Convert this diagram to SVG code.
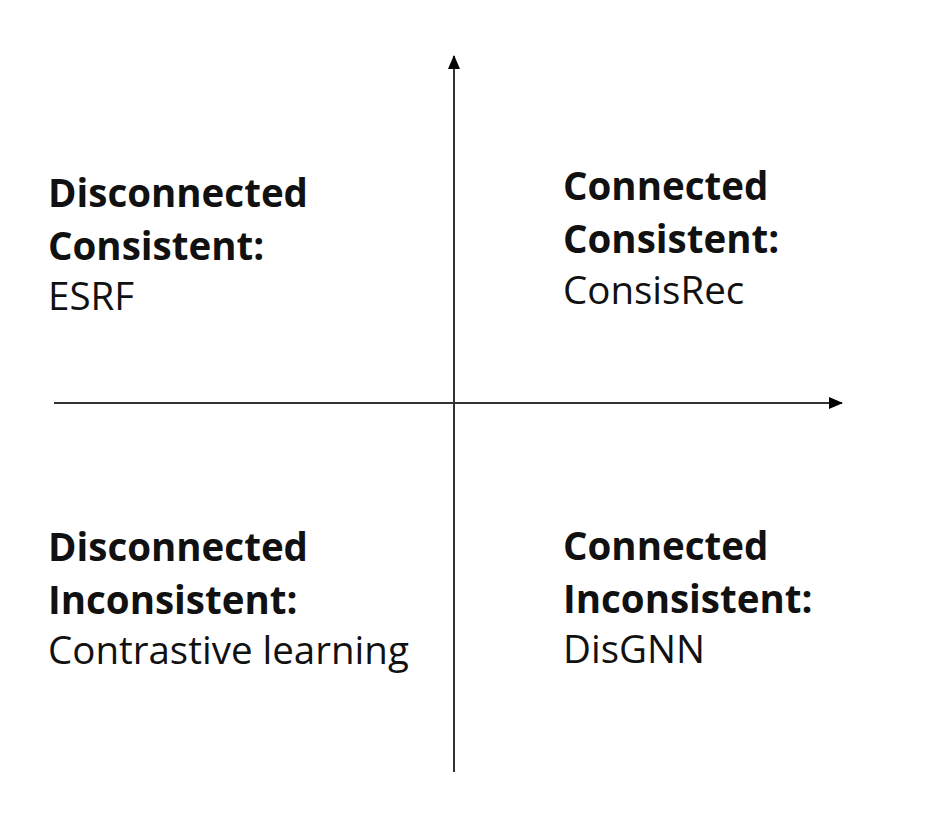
<svg xmlns="http://www.w3.org/2000/svg" width="934" height="826" viewBox="0 0 934 826">
<defs>
<style>
.t{font-family:"Open Sans","Liberation Sans",sans-serif;font-size:38.5px;fill:#111}
.b{font-weight:700}
.r{font-weight:400}
.ax{stroke:#333;stroke-width:2;fill:none}
</style>
<marker id="ah" viewBox="0 0 14 12" refX="13" refY="6" markerWidth="14" markerHeight="12" markerUnits="userSpaceOnUse" orient="auto">
<path d="M0,0 L14,6 L0,12 Z" fill="#000"/>
</marker>
</defs>
<rect width="934" height="826" fill="#fff"/>
<g id="connectors">
<line class="ax" x1="454" y1="772" x2="454" y2="56" marker-end="url(#ah)"/>
<line class="ax" x1="54" y1="403" x2="842" y2="403" marker-end="url(#ah)"/>
</g>
<g id="q-top-left">
<text class="t b" x="48" y="207">Disconnected</text>
<text class="t b" x="48" y="260">Consistent:</text>
<text class="t r" x="48" y="310">ESRF</text>
</g>
<g id="q-top-right">
<text class="t b" x="563" y="200">Connected</text>
<text class="t b" x="563" y="253">Consistent:</text>
<text class="t r" x="563" y="304">ConsisRec</text>
</g>
<g id="q-bottom-left">
<text class="t b" x="48" y="561">Disconnected</text>
<text class="t b" x="48" y="614">Inconsistent:</text>
<text class="t r" x="48" y="664">Contrastive learning</text>
</g>
<g id="q-bottom-right">
<text class="t b" x="563" y="560">Connected</text>
<text class="t b" x="563" y="613">Inconsistent:</text>
<text class="t r" x="563" y="663">DisGNN</text>
</g>
</svg>
